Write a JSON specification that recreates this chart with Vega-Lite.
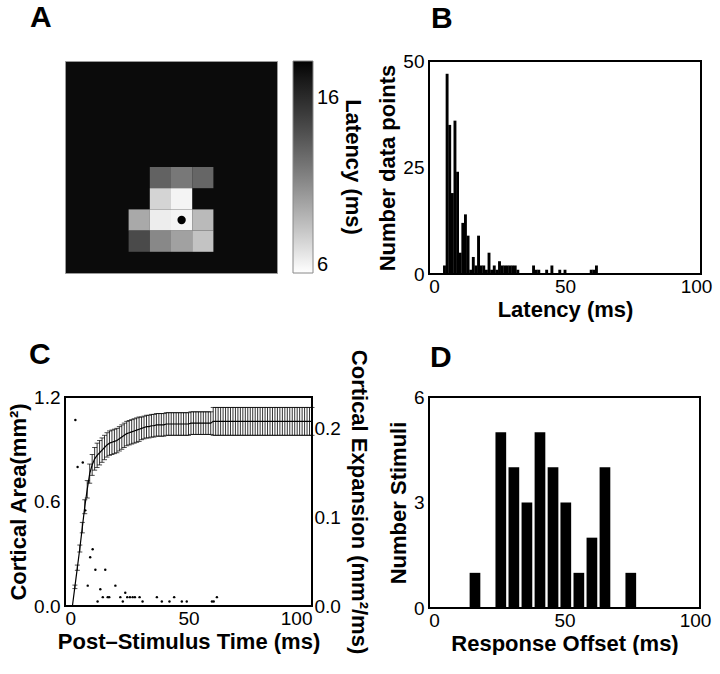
{
  "$schema": "https://vega.github.io/schema/vega-lite/v6.json",
  "background": "white",
  "padding": {"left": 6, "top": 2, "right": 0, "bottom": 0},
  "config": {
    "font": "Liberation Sans",
    "view": {"stroke": "black", "strokeWidth": 2},
    "axis": {"grid": false, "domain": false, "ticks": false, "labelFontSize": 19, "labelColor": "black", "titleFontSize": 22, "titleFontWeight": "bold", "titleColor": "black", "labelPadding": 5, "titlePadding": 3},
    "axisX": {"labelPadding": 3, "titlePadding": 3},
    "legend": {"labelFontSize": 20, "labelColor": "black", "titleFontSize": 22, "titleFontWeight": "bold", "titleColor": "black", "gradientStrokeColor": "#888888", "gradientStrokeWidth": 1},
    "title": {"fontSize": 30, "fontWeight": "bold", "anchor": "start", "frame": "group", "color": "black", "baseline": "alphabetic"}
  },
  "datasets": {
    "cells": [
      {"col": 4, "row": 5, "latency": 12.9},
      {"col": 5, "row": 5, "latency": 11.8},
      {"col": 6, "row": 5, "latency": 12.7},
      {"col": 4, "row": 6, "latency": 7.4},
      {"col": 5, "row": 6, "latency": 6.0},
      {"col": 3, "row": 7, "latency": 9.4},
      {"col": 4, "row": 7, "latency": 6.3},
      {"col": 5, "row": 7, "latency": 6.0},
      {"col": 6, "row": 7, "latency": 8.6},
      {"col": 3, "row": 8, "latency": 14.2},
      {"col": 4, "row": 8, "latency": 11.0},
      {"col": 5, "row": 8, "latency": 9.8},
      {"col": 6, "row": 8, "latency": 8.2}
    ],
    "site": [{"col": 5, "row": 7}],
    "latencyHist": [
      {"latency": 4, "count": 2}, {"latency": 5, "count": 47}, {"latency": 6, "count": 35},
      {"latency": 7, "count": 19}, {"latency": 8, "count": 36}, {"latency": 9, "count": 24},
      {"latency": 10, "count": 5}, {"latency": 11, "count": 12}, {"latency": 12, "count": 14},
      {"latency": 13, "count": 9}, {"latency": 14, "count": 1}, {"latency": 15, "count": 4},
      {"latency": 16, "count": 2}, {"latency": 17, "count": 9}, {"latency": 18, "count": 2},
      {"latency": 19, "count": 2}, {"latency": 20, "count": 1}, {"latency": 21, "count": 5},
      {"latency": 22, "count": 1}, {"latency": 23, "count": 2}, {"latency": 24, "count": 1},
      {"latency": 25, "count": 3}, {"latency": 26, "count": 2}, {"latency": 27, "count": 2},
      {"latency": 28, "count": 2}, {"latency": 29, "count": 2}, {"latency": 30, "count": 2},
      {"latency": 31, "count": 2}, {"latency": 32, "count": 1}, {"latency": 38, "count": 2},
      {"latency": 39, "count": 1}, {"latency": 40, "count": 1}, {"latency": 43, "count": 1},
      {"latency": 45, "count": 2}, {"latency": 48, "count": 1}, {"latency": 50, "count": 1},
      {"latency": 60, "count": 1}, {"latency": 61, "count": 1}, {"latency": 62, "count": 2}
    ],
    "area": [
      {"ms": 3, "mean": 0.0, "lo": 0.0, "hi": 0.0},
      {"ms": 4, "mean": 0.11, "lo": 0.1, "hi": 0.12},
      {"ms": 5, "mean": 0.22, "lo": 0.205, "hi": 0.235},
      {"ms": 6, "mean": 0.33, "lo": 0.31, "hi": 0.35},
      {"ms": 7, "mean": 0.45, "lo": 0.42, "hi": 0.48},
      {"ms": 8, "mean": 0.57, "lo": 0.53, "hi": 0.61},
      {"ms": 9, "mean": 0.67, "lo": 0.62, "hi": 0.72},
      {"ms": 10, "mean": 0.76, "lo": 0.705, "hi": 0.815},
      {"ms": 11, "mean": 0.81, "lo": 0.75, "hi": 0.87},
      {"ms": 12, "mean": 0.845, "lo": 0.78, "hi": 0.91},
      {"ms": 13, "mean": 0.865, "lo": 0.795, "hi": 0.935},
      {"ms": 14, "mean": 0.88, "lo": 0.81, "hi": 0.95},
      {"ms": 15, "mean": 0.895, "lo": 0.825, "hi": 0.965},
      {"ms": 16, "mean": 0.91, "lo": 0.84, "hi": 0.98},
      {"ms": 17, "mean": 0.925, "lo": 0.855, "hi": 0.995},
      {"ms": 18, "mean": 0.935, "lo": 0.865, "hi": 1.005},
      {"ms": 19, "mean": 0.94, "lo": 0.87, "hi": 1.01},
      {"ms": 20, "mean": 0.945, "lo": 0.875, "hi": 1.015},
      {"ms": 21, "mean": 0.95, "lo": 0.88, "hi": 1.02},
      {"ms": 22, "mean": 0.96, "lo": 0.89, "hi": 1.03},
      {"ms": 23, "mean": 0.97, "lo": 0.9, "hi": 1.04},
      {"ms": 24, "mean": 0.98, "lo": 0.91, "hi": 1.05},
      {"ms": 25, "mean": 0.99, "lo": 0.92, "hi": 1.06},
      {"ms": 26, "mean": 0.995, "lo": 0.925, "hi": 1.065},
      {"ms": 27, "mean": 1.0, "lo": 0.93, "hi": 1.07},
      {"ms": 28, "mean": 1.005, "lo": 0.935, "hi": 1.075},
      {"ms": 29, "mean": 1.01, "lo": 0.94, "hi": 1.08},
      {"ms": 30, "mean": 1.015, "lo": 0.945, "hi": 1.085},
      {"ms": 31, "mean": 1.02, "lo": 0.955, "hi": 1.085},
      {"ms": 32, "mean": 1.025, "lo": 0.96, "hi": 1.09},
      {"ms": 33, "mean": 1.03, "lo": 0.965, "hi": 1.095},
      {"ms": 34, "mean": 1.03, "lo": 0.965, "hi": 1.095},
      {"ms": 35, "mean": 1.035, "lo": 0.97, "hi": 1.1},
      {"ms": 36, "mean": 1.035, "lo": 0.97, "hi": 1.1},
      {"ms": 37, "mean": 1.04, "lo": 0.975, "hi": 1.105},
      {"ms": 38, "mean": 1.04, "lo": 0.975, "hi": 1.105},
      {"ms": 39, "mean": 1.04, "lo": 0.975, "hi": 1.105},
      {"ms": 40, "mean": 1.04, "lo": 0.975, "hi": 1.105},
      {"ms": 41, "mean": 1.045, "lo": 0.98, "hi": 1.11},
      {"ms": 42, "mean": 1.045, "lo": 0.98, "hi": 1.11},
      {"ms": 43, "mean": 1.045, "lo": 0.98, "hi": 1.11},
      {"ms": 44, "mean": 1.045, "lo": 0.98, "hi": 1.11},
      {"ms": 45, "mean": 1.045, "lo": 0.98, "hi": 1.11},
      {"ms": 46, "mean": 1.045, "lo": 0.98, "hi": 1.11},
      {"ms": 47, "mean": 1.045, "lo": 0.98, "hi": 1.11},
      {"ms": 48, "mean": 1.045, "lo": 0.98, "hi": 1.11},
      {"ms": 49, "mean": 1.045, "lo": 0.98, "hi": 1.11},
      {"ms": 50, "mean": 1.045, "lo": 0.98, "hi": 1.11},
      {"ms": 51, "mean": 1.05, "lo": 0.985, "hi": 1.115},
      {"ms": 52, "mean": 1.05, "lo": 0.985, "hi": 1.115},
      {"ms": 53, "mean": 1.05, "lo": 0.985, "hi": 1.115},
      {"ms": 54, "mean": 1.05, "lo": 0.985, "hi": 1.115},
      {"ms": 55, "mean": 1.05, "lo": 0.985, "hi": 1.115},
      {"ms": 56, "mean": 1.05, "lo": 0.985, "hi": 1.115},
      {"ms": 57, "mean": 1.05, "lo": 0.985, "hi": 1.115},
      {"ms": 58, "mean": 1.05, "lo": 0.985, "hi": 1.115},
      {"ms": 59, "mean": 1.05, "lo": 0.985, "hi": 1.115},
      {"ms": 60, "mean": 1.06, "lo": 0.98, "hi": 1.14},
      {"ms": 61, "mean": 1.06, "lo": 0.98, "hi": 1.14},
      {"ms": 62, "mean": 1.06, "lo": 0.98, "hi": 1.14},
      {"ms": 63, "mean": 1.06, "lo": 0.98, "hi": 1.14},
      {"ms": 64, "mean": 1.06, "lo": 0.98, "hi": 1.14},
      {"ms": 65, "mean": 1.06, "lo": 0.98, "hi": 1.14},
      {"ms": 66, "mean": 1.06, "lo": 0.98, "hi": 1.14},
      {"ms": 67, "mean": 1.06, "lo": 0.98, "hi": 1.14},
      {"ms": 68, "mean": 1.06, "lo": 0.98, "hi": 1.14},
      {"ms": 69, "mean": 1.06, "lo": 0.98, "hi": 1.14},
      {"ms": 70, "mean": 1.06, "lo": 0.98, "hi": 1.14},
      {"ms": 71, "mean": 1.06, "lo": 0.98, "hi": 1.14},
      {"ms": 72, "mean": 1.06, "lo": 0.98, "hi": 1.14},
      {"ms": 73, "mean": 1.06, "lo": 0.98, "hi": 1.14},
      {"ms": 74, "mean": 1.06, "lo": 0.98, "hi": 1.14},
      {"ms": 75, "mean": 1.06, "lo": 0.98, "hi": 1.14},
      {"ms": 76, "mean": 1.06, "lo": 0.98, "hi": 1.14},
      {"ms": 77, "mean": 1.06, "lo": 0.98, "hi": 1.14},
      {"ms": 78, "mean": 1.06, "lo": 0.98, "hi": 1.14},
      {"ms": 79, "mean": 1.06, "lo": 0.98, "hi": 1.14},
      {"ms": 80, "mean": 1.06, "lo": 0.98, "hi": 1.14},
      {"ms": 81, "mean": 1.06, "lo": 0.98, "hi": 1.14},
      {"ms": 82, "mean": 1.06, "lo": 0.98, "hi": 1.14},
      {"ms": 83, "mean": 1.06, "lo": 0.98, "hi": 1.14},
      {"ms": 84, "mean": 1.06, "lo": 0.98, "hi": 1.14},
      {"ms": 85, "mean": 1.06, "lo": 0.98, "hi": 1.14},
      {"ms": 86, "mean": 1.06, "lo": 0.98, "hi": 1.14},
      {"ms": 87, "mean": 1.06, "lo": 0.98, "hi": 1.14},
      {"ms": 88, "mean": 1.06, "lo": 0.98, "hi": 1.14},
      {"ms": 89, "mean": 1.06, "lo": 0.98, "hi": 1.14},
      {"ms": 90, "mean": 1.06, "lo": 0.98, "hi": 1.14},
      {"ms": 91, "mean": 1.06, "lo": 0.98, "hi": 1.14},
      {"ms": 92, "mean": 1.06, "lo": 0.98, "hi": 1.14},
      {"ms": 93, "mean": 1.06, "lo": 0.98, "hi": 1.14},
      {"ms": 94, "mean": 1.06, "lo": 0.98, "hi": 1.14},
      {"ms": 95, "mean": 1.06, "lo": 0.98, "hi": 1.14},
      {"ms": 96, "mean": 1.06, "lo": 0.98, "hi": 1.14},
      {"ms": 97, "mean": 1.06, "lo": 0.98, "hi": 1.14},
      {"ms": 98, "mean": 1.06, "lo": 0.98, "hi": 1.14},
      {"ms": 99, "mean": 1.06, "lo": 0.98, "hi": 1.14},
      {"ms": 100, "mean": 1.06, "lo": 0.98, "hi": 1.14}
    ],
    "expansion": [
      {"ms": 4.2, "rate": 0.21}, {"ms": 5.1, "rate": 0.157}, {"ms": 7.2, "rate": 0.162},
      {"ms": 8.2, "rate": 0.108}, {"ms": 9.2, "rate": 0.023}, {"ms": 10.2, "rate": 0.055},
      {"ms": 11.2, "rate": 0.064}, {"ms": 12.3, "rate": 0.041}, {"ms": 13.2, "rate": 0.005},
      {"ms": 14.3, "rate": 0.019}, {"ms": 15.3, "rate": 0.01}, {"ms": 16.3, "rate": 0.041},
      {"ms": 17.3, "rate": 0.01}, {"ms": 17.9, "rate": 0.01}, {"ms": 20.4, "rate": 0.023},
      {"ms": 22.4, "rate": 0.01}, {"ms": 23.4, "rate": 0.005}, {"ms": 24.4, "rate": 0.015},
      {"ms": 25.2, "rate": 0.01}, {"ms": 26.3, "rate": 0.01}, {"ms": 27.4, "rate": 0.01},
      {"ms": 28.3, "rate": 0.01}, {"ms": 30.2, "rate": 0.01}, {"ms": 31.4, "rate": 0.005},
      {"ms": 37.2, "rate": 0.01}, {"ms": 39.2, "rate": 0.005}, {"ms": 42.3, "rate": 0.005},
      {"ms": 44.2, "rate": 0.01}, {"ms": 47.3, "rate": 0.005}, {"ms": 49.3, "rate": 0.005},
      {"ms": 59.5, "rate": 0.005}, {"ms": 60.2, "rate": 0.005}, {"ms": 61.5, "rate": 0.01}
    ],
    "offsetHist": [
      {"offset": 15.7, "stimuli": 1}, {"offset": 25.6, "stimuli": 5}, {"offset": 30.6, "stimuli": 4},
      {"offset": 35.6, "stimuli": 3}, {"offset": 40.6, "stimuli": 5}, {"offset": 45.6, "stimuli": 4},
      {"offset": 50.5, "stimuli": 3}, {"offset": 55.5, "stimuli": 1}, {"offset": 60.5, "stimuli": 2},
      {"offset": 65.5, "stimuli": 4}, {"offset": 75.4, "stimuli": 1}
    ]
  },
  "columns": 2,
  "bounds": "flush",
  "align": "all",
  "spacing": {"row": 123, "column": 92},
  "resolve": {"scale": {"color": "independent"}, "legend": {"color": "independent"}},
  "concat": [
    {
      "title": {"text": "A", "dx": -35, "offset": 28},
      "width": 212,
      "height": 212,
      "view": {"fill": "#0b0b0b", "stroke": "#9a9a9a", "strokeWidth": 1},
      "layer": [
        {
          "data": {"name": "cells"},
          "mark": {"type": "rect"},
          "encoding": {
            "x": {"field": "col", "type": "ordinal", "scale": {"domain": [0, 1, 2, 3, 4, 5, 6, 7, 8, 9], "paddingInner": 0, "paddingOuter": 0}, "axis": null},
            "y": {"field": "row", "type": "ordinal", "scale": {"domain": [0, 1, 2, 3, 4, 5, 6, 7, 8, 9], "paddingInner": 0, "paddingOuter": 0}, "axis": null},
            "color": {
              "field": "latency", "type": "quantitative",
              "scale": {"domain": [5.5, 18.2], "range": ["#ffffff", "#000000"]},
              "legend": {"title": "Latency (ms)", "titleOrient": "right", "values": [6, 16], "gradientLength": 212, "gradientThickness": 20, "offset": 16, "labelOffset": 4, "titlePadding": 2, "direction": "vertical"}
            }
          }
        },
        {
          "data": {"name": "site"},
          "mark": {"type": "circle", "size": 70, "color": "black", "opacity": 1},
          "encoding": {
            "x": {"field": "col", "type": "ordinal", "scale": {"domain": [0, 1, 2, 3, 4, 5, 6, 7, 8, 9], "paddingInner": 0, "paddingOuter": 0}, "axis": null},
            "y": {"field": "row", "type": "ordinal", "scale": {"domain": [0, 1, 2, 3, 4, 5, 6, 7, 8, 9], "paddingInner": 0, "paddingOuter": 0}, "axis": null}
          }
        }
      ]
    },
    {
      "title": {"text": "B", "dx": 2, "offset": 18},
      "width": 272,
      "height": 213,
      "data": {"name": "latencyHist"},
      "mark": {"type": "bar", "color": "black", "size": 2.9},
      "encoding": {
        "x": {"field": "latency", "type": "quantitative", "scale": {"domain": [0, 100], "nice": false}, "axis": {"values": [0, 50, 100], "title": "Latency (ms)"}},
        "y": {"field": "count", "type": "quantitative", "scale": {"domain": [0, 50]}, "axis": {"values": [0, 25, 50], "title": "Number data points"}}
      }
    },
    {
      "title": {"text": "C", "dx": -36, "offset": 15, "dy": 36},
      "width": 247,
      "height": 209,
      "layer": [
        {
          "data": {"name": "area"},
          "layer": [
            {
              "mark": {"type": "errorbar", "color": "black", "ticks": {"size": 5, "thickness": 1}, "rule": {"strokeWidth": 0.8}},
              "encoding": {
                "x": {"field": "ms", "type": "quantitative", "scale": {"domain": [0, 100], "nice": false}, "axis": {"values": [0, 50, 100], "title": "Post–Stimulus Time (ms)"}},
                "y": {"field": "lo", "type": "quantitative", "scale": {"domain": [0, 1.2]}, "axis": {"values": [0, 0.6, 1.2], "format": ".1f", "title": "Cortical Area(mm²)"}},
                "y2": {"field": "hi"}
              }
            },
            {
              "mark": {"type": "line", "color": "black", "strokeWidth": 1.2},
              "encoding": {
                "x": {"field": "ms", "type": "quantitative", "scale": {"domain": [0, 100], "nice": false}, "axis": {"values": [0, 50, 100], "title": "Post–Stimulus Time (ms)"}},
                "y": {"field": "mean", "type": "quantitative", "scale": {"domain": [0, 1.2]}, "axis": {"values": [0, 0.6, 1.2], "format": ".1f", "title": "Cortical Area(mm²)"}}
              }
            }
          ]
        },
        {
          "data": {"name": "expansion"},
          "mark": {"type": "circle", "size": 6, "color": "black", "opacity": 1},
          "encoding": {
            "x": {"field": "ms", "type": "quantitative", "scale": {"domain": [0, 100], "nice": false}, "axis": {"values": [0, 50, 100], "title": "Post–Stimulus Time (ms)"}},
            "y": {"field": "rate", "type": "quantitative", "scale": {"domain": [0, 0.236], "nice": false}, "axis": {"orient": "right", "values": [0, 0.1, 0.2], "format": ".1f", "title": "Cortical Expansion (mm²/ms)", "labelPadding": 2, "titlePadding": 6}}
          }
        }
      ],
      "resolve": {"scale": {"y": "independent"}}
    },
    {
      "title": {"text": "D", "dx": 1, "offset": 15},
      "width": 271,
      "height": 211,
      "data": {"name": "offsetHist"},
      "mark": {"type": "bar", "color": "black", "size": 10.7},
      "encoding": {
        "x": {"field": "offset", "type": "quantitative", "scale": {"domain": [0, 100], "nice": false}, "axis": {"values": [0, 50, 100], "title": "Response Offset (ms)"}},
        "y": {"field": "stimuli", "type": "quantitative", "scale": {"domain": [0, 6]}, "axis": {"values": [0, 3, 6], "title": "Number Stimuli"}}
      }
    }
  ]
}
